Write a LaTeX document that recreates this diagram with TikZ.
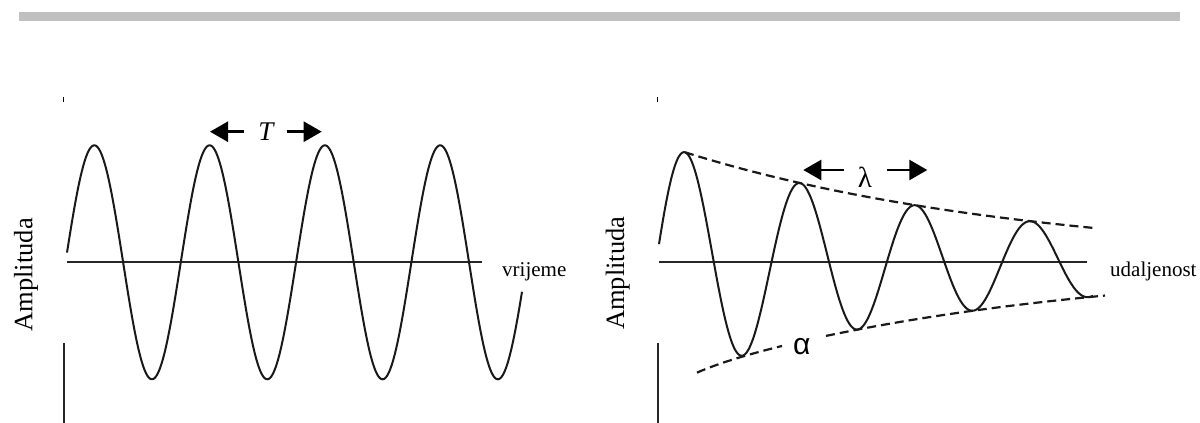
\documentclass[tikz,border=0pt]{standalone}
\usepackage{fontspec}
\setmainfont{Liberation Serif}
\newfontfamily\greeksans{Liberation Sans}
\usetikzlibrary{arrows.meta}
\definecolor{barcol}{HTML}{C0C0C0}
\begin{document}
\begin{tikzpicture}[x=1pt,y=-1pt,
  axisline/.style={line width=1.8pt, black!85},
  tickline/.style={line width=1.6pt, black},
  wave/.style={line width=2pt, black!90, line join=round},
  envelope/.style={line width=2.2pt, black!90, dash pattern=on 9pt off 5pt},
  bigarrow/.style={line width=2.6pt, -{Triangle[length=18pt,width=20pt]}},
  axlabel/.style={inner sep=0pt, anchor=base west, font=\fontsize{21}{25}\selectfont},
  sidelabel/.style={inner sep=0pt, anchor=base west, rotate=90, font=\fontsize{26.5}{30}\selectfont},
  symb/.style={inner sep=0pt},
]
\useasboundingbox (0,0) rectangle (1200,423);
% top bar
\fill[barcol] (19,12.3) rectangle (1180,20.7);

% ---------- left plot ----------
\draw[tickline] (63.5,96.7) -- (63.5,101.7);
\coordinate (LvA) at (64,343);
\coordinate (LvB) at (64,423);
\draw[axisline] (LvA) -- (LvB);
\coordinate (LaxA) at (66.7,262.3);
\coordinate (LaxB) at (482,262.3);
\draw[axisline] (LaxA) -- (LaxB);
\draw[wave] plot[domain=67:522, samples=400, smooth] (\x, {262.3-117*cos((\x-94.3)/115.3*360)});
\node[axlabel] (vrij) at (502,276.7) {vrijeme};
\node[sidelabel] (ampL) at (32.3,331.7) {Amplituda};
\node[symb, font=\fontsize{27}{30}\selectfont] (T) at (266.7,132) {\textit{T}};
\coordinate (TLtail) at (244,131.7);
\coordinate (TLtip) at (210,131.7);
\coordinate (TRtail) at (286.7,131.7);
\coordinate (TRtip) at (321.7,131.7);
\draw[bigarrow] (TLtail) -- (TLtip);
\draw[bigarrow] (TRtail) -- (TRtip);

% ---------- right plot ----------
\draw[tickline] (657.3,97.3) -- (657.3,101.7);
\coordinate (RvA) at (657.7,343);
\coordinate (RvB) at (657.7,423);
\draw[axisline] (RvA) -- (RvB);
\coordinate (RaxA) at (659,262.3);
\coordinate (RaxB) at (1087,262.3);
\draw[axisline] (RaxA) -- (RaxB);
\draw[wave] plot[domain=659:1093, samples=400, smooth]
  (\x, {262.3-110*exp(-0.3285*(\x-685)/115.3)*cos((\x-685)/115.3*360)});
% envelopes
\draw[envelope] plot[domain=685:1093, samples=60, smooth]
  (\x, {262.3-110*exp(-0.3285*(\x-685)/115.3)});
\draw[envelope] plot[domain=697:782, samples=20, smooth]
  (\x, {262.3+110*exp(-0.3285*(\x-685)/115.3)+4*exp(-(\x-697)/30)});
\draw[envelope] plot[domain=826:1105, samples=60, smooth]
  (\x, {262.3+110*exp(-0.3285*(\x-685)/115.3)});
\node[axlabel] (udal) at (1110,276.7) {udaljenost};
\node[sidelabel] (ampR) at (624,330) {Amplituda};
\node[symb, font=\fontsize{29}{32}\selectfont] (lam) at (865,177) {λ};
\node[symb, font=\greeksans\fontsize{30}{32}\selectfont] (alp) at (801.7,347) {α};
\coordinate (LLtail) at (844,170);
\coordinate (LLtip) at (803.3,170);
\coordinate (LRtail) at (886.7,170);
\coordinate (LRtip) at (927.3,170);
\draw[bigarrow] (LLtail) -- (LLtip);
\draw[bigarrow] (LRtail) -- (LRtip);
\end{tikzpicture}
\end{document}
